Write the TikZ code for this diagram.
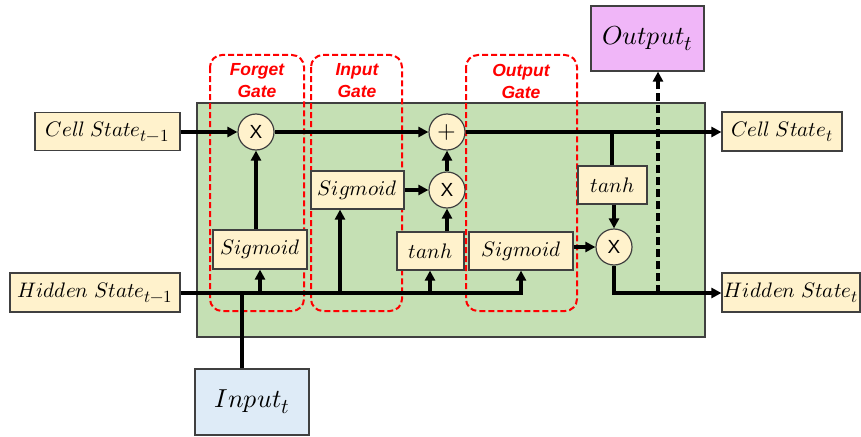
\documentclass[tikz,border=0pt]{standalone}
\usepackage{fontspec}
\usepackage{unicode-math}
\setmathfont{Latin Modern Math}
\setsansfont{Liberation Sans}
\DeclareMathSizes{21}{21}{17}{13}
\DeclareMathSizes{26}{26}{21}{16}
\usetikzlibrary{arrows.meta,calc}
\definecolor{lstmgreen}{RGB}{197,224,180}
\definecolor{boxyellow}{RGB}{255,242,204}
\definecolor{inblue}{RGB}{222,235,247}
\definecolor{outpink}{RGB}{240,182,248}
\definecolor{borderg}{RGB}{64,64,64}
\begin{document}
\begin{tikzpicture}[x=1pt,y=-1pt,
  box/.style={draw=borderg,line width=1.2pt,fill=boxyellow,inner sep=0pt,font=\fontsize{21}{24}\selectfont},
  op/.style={draw=borderg,line width=1.2pt,fill=boxyellow,circle,minimum size=36pt,inner sep=0pt,font=\sffamily\fontsize{19}{20}\selectfont},
  gate/.style={draw=red,dashed,dash pattern=on 6pt off 3pt,line width=2pt,rounded corners=12pt},
  gatelabel/.style={text=red,font=\sffamily\bfseries\itshape\fontsize{17.5}{22}\selectfont,align=center},
  wire/.style={line width=3.2pt,line cap=butt},
  arr/.style={wire,-{Triangle[length=10pt,width=10pt]}}
]
\useasboundingbox (0,0) rectangle (861,436);
% green cell
\fill[lstmgreen] (197,103) rectangle (705,337);
\draw[borderg,line width=1.2pt] (197,103) rectangle (705,337);
% gates
\draw[gate] (210,55) rectangle (304,311);
\draw[gate] (311,55) rectangle (402,311);
\draw[gate] (466,55) rectangle (577,311);
\node[gatelabel] (lf) at (257,81) {Forget\\Gate};
\node[gatelabel] (li) at (357,81) {Input\\Gate};
\node[gatelabel] (lo) at (521,81) {Output\\Gate};
% nodes
\node[box,minimum width=145pt,minimum height=38pt] (cprev) at (107.5,131.5) {$Cell\;State_{t-1}$};
\node[box,minimum width=170pt,minimum height=39pt] (hprev) at (95,292.5) {$Hidden\;State_{t-1}$};
\node[op] (fx) at (256,132) {X};
\node[box,minimum width=94pt,minimum height=39pt] (fsig) at (260,249.5) {$Sigmoid$};
\node[box,minimum width=93pt,minimum height=38pt] (isig) at (357.5,190) {$Sigmoid$};
\node[box,minimum width=67pt,minimum height=38pt] (tanh1) at (430.5,251) {$tanh$};
\node[box,minimum width=104pt,minimum height=38pt] (osig) at (521,251) {$Sigmoid$};
\node[op,font=\fontsize{24}{24}\selectfont] (plus) at (447,132) {$+$};
\node[op] (ix) at (447,190) {X};
\node[box,minimum width=69pt,minimum height=38pt] (tanh2) at (612.5,185) {$tanh$};
\node[op] (ox) at (614,247) {X};
\node[box,minimum width=120pt,minimum height=39pt] (cnext) at (782,131.5) {$Cell\;State_{t}$};
\node[box,minimum width=138pt,minimum height=39pt] (hnext) at (791,292.5) {$Hidden\;State_{t}$};
\node[box,fill=outpink,minimum width=113pt,minimum height=65pt,font=\fontsize{26}{30}\selectfont] (out) at (647.5,38.5) {$Output_{t}$};
\node[box,fill=inblue,minimum width=114pt,minimum height=66pt,font=\fontsize{26}{30}\selectfont] (in) at (252,402) {$Input_{t}$};
% coordinates
\coordinate (hl) at (0,293);
\coordinate (bf) at (260,293);
\coordinate (bi) at (340,293);
\coordinate (bt) at (430,293);
\coordinate (bin) at (242,293);
\coordinate (cb) at (612,132);
\coordinate (dd) at (658,293);
% cell state line
\draw[arr] (cprev.east |- fx.west) -- (fx.west);
\draw[arr] (fx.east) -- (plus.west);
\draw[arr] (plus.east) -- (cnext.west |- plus.east);
\draw[wire] (cb) -- (cb |- tanh2.north);
\draw[arr] (ox.north |- tanh2.south) -- (ox.north);
\draw[arr] (osig.east |- ox.west) -- (ox.west);
\draw[arr] (ox.south) |- (hnext.west |- dd);
\draw[wire,dashed,dash pattern=on 8pt off 4pt,-{Triangle[length=10pt,width=10pt]}] (dd) -- (dd |- out.south);
% hidden input line
\draw[arr] (hprev.east |- hl) -| (osig.south);
\draw[wire] (in.north -| bin) -- (bin);
\draw[arr] (bf) -- (bf |- fsig.south);
\draw[arr] (bi) -- (bi |- isig.south);
\draw[arr] (bt) -- (bt |- tanh1.south);
\draw[arr] (fx.south |- fsig.north) -- (fx.south);
\draw[arr] (isig.east |- ix.west) -- (ix.west);
\draw[arr] (ix.south |- tanh1.north) -- (ix.south);
\draw[arr] (ix.north) -- (plus.south);
\end{tikzpicture}
\end{document}
